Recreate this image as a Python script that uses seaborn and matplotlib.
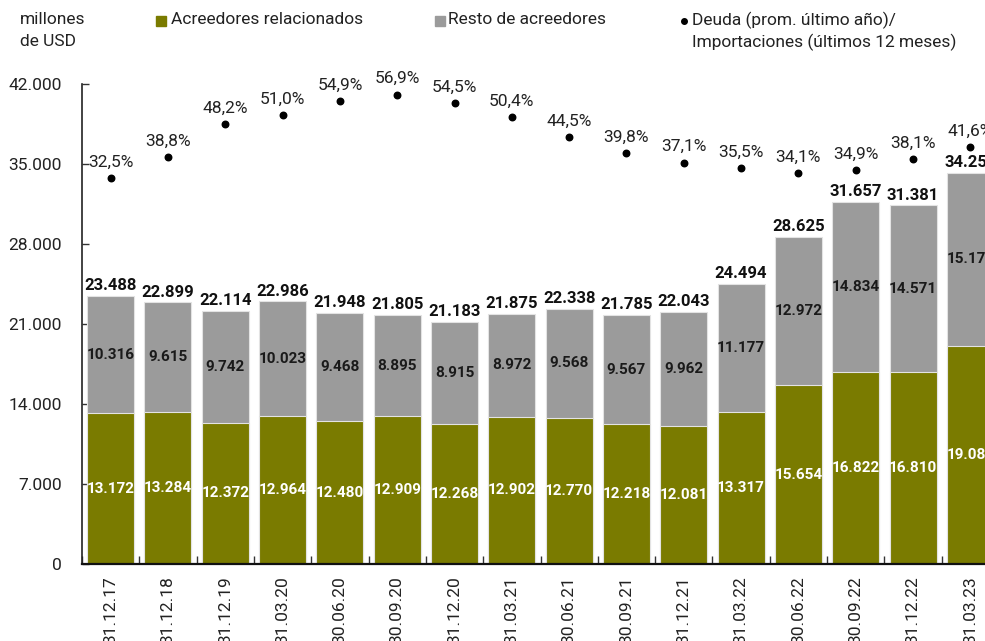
import numpy as np
import pandas as pd
import matplotlib
matplotlib.use("Agg")
import matplotlib.pyplot as plt
from matplotlib.patches import Rectangle
from matplotlib.lines import Line2D
import seaborn as sns

fechas = ['31.12.17', '31.12.18', '31.12.19', '31.03.20', '30.06.20', '30.09.20',
          '31.12.20', '31.03.21', '30.06.21', '30.09.21', '31.12.21', '31.03.22',
          '30.06.22', '30.09.22', '31.12.22', '31.03.23']
relacionados = [13172, 13284, 12372, 12964, 12480, 12909, 12268, 12902,
                12770, 12218, 12081, 13317, 15654, 16822, 16810, 19085]
resto = [10316, 9615, 9742, 10023, 9468, 8895, 8915, 8972,
         9568, 9567, 9962, 11177, 12972, 14834, 14571, 15170]
totales = [23488, 22899, 22114, 22986, 21948, 21805, 21183, 21875,
           22338, 21785, 22043, 24494, 28625, 31657, 31381, 34255]
deuda_import = [32.5, 38.8, 48.2, 51.0, 54.9, 56.9, 54.5, 50.4,
                44.5, 39.8, 37.1, 35.5, 34.1, 34.9, 38.1, 41.6]

df = pd.DataFrame({'fecha': fechas, 'rel': relacionados, 'resto': resto,
                   'total': totales, 'pct': deuda_import})
df['apilado'] = df['rel'] + df['resto']

verde = '#7a7b00'
gris = '#9b9b9b'

sns.set_style('white')
plt.rcParams['font.family'] = ['Roboto', 'DejaVu Sans']


def miles(v):
    return f'{v:,.0f}'.replace(',', '.')


fig = plt.figure(figsize=(9.85, 6.41), dpi=100)
ax = fig.add_axes([82 / 985, 1 - 564 / 641, 917 / 985, 480 / 641])

sns.barplot(data=df, x='fecha', y='apilado', color=gris, width=0.82, saturation=1,
            edgecolor='#e3e3e3', linewidth=0.8, ax=ax)
sns.barplot(data=df, x='fecha', y='rel', color=verde, width=0.82, saturation=1,
            edgecolor='#e3e3e3', linewidth=0.8, ax=ax)

x = np.arange(len(df))
for i, r in df.iterrows():
    ax.text(i, r['rel'] / 2, miles(r['rel']), ha='center', va='center',
            color='white', fontsize=11, fontweight='bold')
    ax.text(i, r['rel'] + r['resto'] / 2, miles(r['resto']), ha='center',
            va='center', color='#1a1a1a', fontsize=11, fontweight='bold')
    ax.annotate(miles(r['total']), (i, r['apilado']), xytext=(0, 2),
                textcoords='offset points', ha='center', va='bottom',
                fontsize=12, fontweight='bold', color='#111111')

ax.set_ylim(0, 42000)
ax.set_xlim(-0.5, len(df) - 0.5)
ax.set_yticks(np.arange(0, 42001, 7000))
ax.set_yticklabels([miles(v) for v in np.arange(0, 42001, 7000)])
ax.set_xlabel('')
ax.set_ylabel('')
ax.set_xticks(x)
ax.set_xticklabels(fechas, rotation=90, va='top')
ax.set_xticks(np.arange(-0.5, len(df), 1), minor=True)
ax.tick_params(axis='x', which='major', length=0, pad=9, labelsize=12.5,
               labelcolor='#222222')
ax.tick_params(axis='x', which='minor', direction='in', length=6, width=1,
               color='#333333', bottom=True)
ax.tick_params(axis='y', direction='in', length=5, width=1, pad=14.5,
               labelsize=12.5, labelcolor='#222222', left=True, color='#333333')
for s in ['top', 'right']:
    ax.spines[s].set_visible(False)
ax.spines['left'].set_color('#222222')
ax.spines['left'].set_linewidth(1.2)
ax.spines['bottom'].set_color('#111111')
ax.spines['bottom'].set_linewidth(1.6)

ax2 = ax.twinx()
ax2.scatter(x, df['pct'] / 100, s=22, color='black', zorder=5)
for i, v in enumerate(df['pct']):
    ax2.annotate(f'{v:.1f}%'.replace('.', ','), (i, v / 100), xytext=(0, 6),
                 textcoords='offset points', ha='center', va='bottom',
                 fontsize=12.5, color='#222222')
ax2.set_ylim(-0.8, 0.6)
ax2.set_yticks([])
for s in ['top', 'right', 'left', 'bottom']:
    ax2.spines[s].set_visible(False)

# leyenda y unidades
fig.text(20 / 985, 1 - 20 / 641, 'millones', fontsize=12.5, va='center', color='#222222')
fig.text(20 / 985, 1 - 42 / 641, 'de USD', fontsize=12.5, va='center', color='#222222')
fig.add_artist(Rectangle((156 / 985, 1 - 26 / 641), 10 / 985, 10 / 641,
                         transform=fig.transFigure, color=verde))
fig.text(171 / 985, 1 - 20 / 641, 'Acreedores relacionados', fontsize=12.5,
         va='center', color='#222222')
fig.add_artist(Rectangle((435 / 985, 1 - 26 / 641), 10 / 985, 10 / 641,
                         transform=fig.transFigure, color=gris))
fig.text(448 / 985, 1 - 20 / 641, 'Resto de acreedores', fontsize=12.5,
         va='center', color='#222222')
fig.add_artist(Line2D([684 / 985], [1 - 21 / 641], marker='o', markersize=4,
                      color='black', transform=fig.transFigure))
fig.text(692 / 985, 1 - 20 / 641, 'Deuda (prom. último año)/', fontsize=12.5,
         va='center', color='#222222')
fig.text(692 / 985, 1 - 42 / 641, 'Importaciones (últimos 12 meses)', fontsize=12.5,
         va='center', color='#222222')

fig.savefig('out.png', dpi=100)
